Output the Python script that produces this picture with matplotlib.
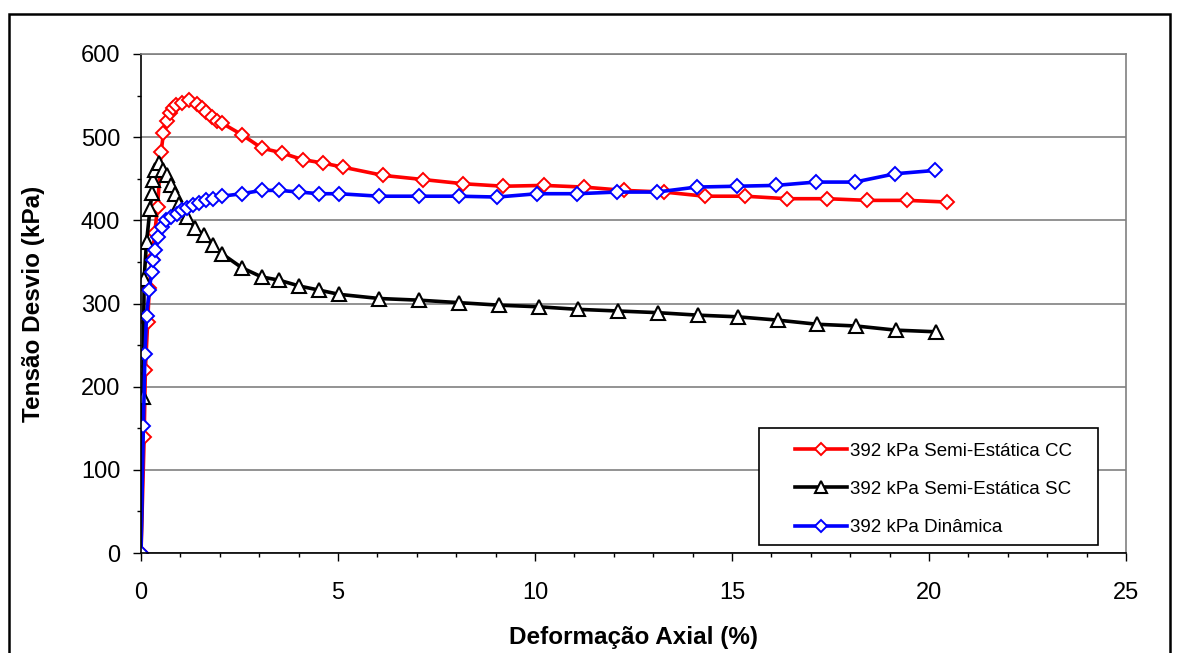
import matplotlib.pyplot as plt
from matplotlib.patches import Rectangle

plt.rcParams['font.family'] = ['Liberation Sans', 'DejaVu Sans']

# Semi-Estática CC (red)
cc_x = [0, 0.08, 0.11, 0.17, 0.21, 0.28, 0.35, 0.42, 0.51, 0.57, 0.65, 0.74, 0.82,
        0.9, 1.03, 1.23, 1.43, 1.54, 1.65, 1.79, 1.92, 2.05, 2.56, 3.06, 3.58, 4.1,
        4.61, 5.12, 6.15, 7.17, 8.18, 9.2, 10.22, 11.24, 12.26, 13.28, 14.31, 15.33,
        16.4, 17.42, 18.43, 19.45, 20.46]
cc_y = [0, 139, 220, 278, 319, 354, 385, 416, 482, 505, 520, 529, 535,
        539, 541, 545, 540, 535, 530, 524, 519, 517, 503, 487, 481, 473,
        469, 464, 454, 449, 444, 441, 442, 440, 436, 434, 429, 429,
        426, 426, 424, 424, 422]

# Semi-Estática SC (black)
sc_x = [0, 0.05, 0.08, 0.14, 0.23, 0.28, 0.3, 0.36, 0.46, 0.57, 0.65, 0.75, 0.86,
        0.97, 1.18, 1.37, 1.6, 1.82, 2.05, 2.56, 3.06, 3.51, 4.02, 4.53, 5.03,
        6.05, 7.06, 8.08, 9.09, 10.11, 11.08, 12.1, 13.11, 14.13, 15.14, 16.16,
        17.17, 18.14, 19.15, 20.17]
sc_y = [0, 188, 330, 374, 414, 433, 448, 461, 469, 461, 454, 443, 432,
        420, 404, 391, 382, 370, 360, 343, 332, 328, 321, 316, 311,
        306, 304, 301, 298, 296, 293, 291, 289, 286, 284, 280,
        275, 273, 268, 266]

# Dinâmica (blue)
din_x = [0, 0.06, 0.1, 0.14, 0.21, 0.27, 0.31, 0.36, 0.44, 0.53, 0.63, 0.75, 0.91,
         1.03, 1.17, 1.33, 1.48, 1.65, 1.82, 2.05, 2.56, 3.06, 3.51, 4.02, 4.53,
         5.03, 6.05, 7.06, 8.08, 9.04, 10.06, 11.07, 12.07, 13.09, 14.1, 15.12,
         16.11, 17.12, 18.12, 19.14, 20.15]
din_y = [0, 153, 239, 285, 316, 338, 352, 364, 380, 392, 400, 404, 408,
         412, 415, 418, 421, 424, 426, 429, 432, 436, 436, 434, 432,
         432, 429, 429, 429, 428, 432, 432, 434, 434, 440, 441,
         442, 446, 446, 456, 460]

labels = ["392 kPa Semi-Estática CC", "392 kPa Semi-Estática SC", "392 kPa Dinâmica"]

fig = plt.figure(figsize=(11.79, 6.53), dpi=100)
ax = fig.add_axes([141 / 1179, 1 - 553 / 653, 985 / 1179, 499 / 653])

ax.plot(cc_x, cc_y, color="#ff0000", lw=2.6, marker="D", ms=7.3, mfc="white",
        mec="#ff0000", mew=1.4, label=labels[0])
ax.plot(sc_x, sc_y, color="black", lw=2.6, marker="^", ms=9.5, mfc="white",
        mec="black", mew=1.5, label=labels[1])
ax.plot(din_x, din_y, color="#0000ff", lw=2.6, marker="D", ms=7.3, mfc="white",
        mec="#0000ff", mew=1.4, label=labels[2])

ax.set_xlim(0, 25)
ax.set_ylim(0, 600)
ax.set_xticks(range(0, 26, 5))
ax.set_xticks(range(0, 26), minor=True)
ax.set_yticks(range(0, 601, 100))
ax.set_yticks(range(0, 601, 50), minor=True)
ax.yaxis.grid(True, which="major", color="#808080", lw=1.2)
ax.set_axisbelow(True)

ax.tick_params(axis="both", which="major", labelsize=17, length=6, width=1, direction="out")
ax.tick_params(axis="both", which="minor", length=3, width=1, direction="out")
ax.tick_params(axis="x", which="major", pad=15)
ax.tick_params(axis="y", which="major", pad=9)

for side in ("top", "right"):
    ax.spines[side].set_color("#808080")
    ax.spines[side].set_linewidth(1.2)
for side in ("left", "bottom"):
    ax.spines[side].set_color("black")
    ax.spines[side].set_linewidth(1.2)

ax.set_xlabel("Deformação Axial (%)", fontsize=17.5, fontweight="bold", labelpad=16)
ax.set_ylabel("Tensão Desvio (kPa)", fontsize=17.5, fontweight="bold", labelpad=26)

# legend box drawn separately so the padding matches the Excel legend
ax.add_patch(Rectangle((0.6274, 0.016), 0.3442, 0.2345, transform=ax.transAxes,
                       facecolor="white", edgecolor="black", lw=1.2, zorder=4))
leg = ax.legend(loc="upper left", bbox_to_anchor=(0.664, 0.221), fontsize=13.5,
                frameon=False, handlelength=2.75, handletextpad=0.2,
                labelspacing=1.12, borderpad=0, borderaxespad=0, markerscale=0.85)
leg.set_zorder(5)

# outer chart-area frame
fig.patches.append(Rectangle((9 / 1179, -0.05), 1161 / 1179, 1.05 - 14 / 653,
                             transform=fig.transFigure, fill=False,
                             edgecolor="black", lw=1.8))

fig.savefig("out.png", dpi=100)
